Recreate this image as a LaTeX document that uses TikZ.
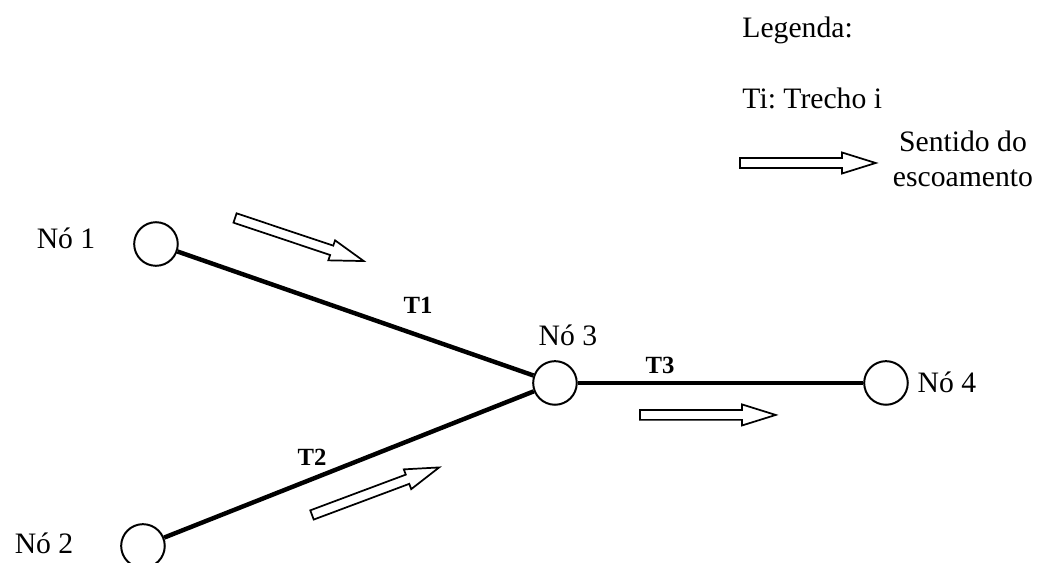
\documentclass[tikz,border=0pt]{standalone}
\usepackage{fontspec}
\setmainfont{Liberation Serif}
\usetikzlibrary{positioning}

\begin{document}
\frenchspacing
\begin{tikzpicture}[
  no/.style={circle, draw, line width=0.8pt, minimum size=0.62cm, inner sep=0pt},
  trecho/.style={line width=1.8pt},
  rotulo/.style={font=\fontsize{12}{14}\selectfont, inner sep=0pt},
  tlabel/.style={font=\fontsize{10}{12}\selectfont\bfseries, inner sep=0pt},
  flecha/.pic={
    \draw[line width=0.7pt, fill=white]
      (0,-0.07) -- (1.45,-0.07) -- (1.45,-0.15) -- (1.93,0)
      -- (1.45,0.15) -- (1.45,0.07) -- (0,0.07) -- cycle;
  },
]
\useasboundingbox (0,0) rectangle (14.903,8.006);

% ====== Nos ======
\node[no] (n1) at (2.218, 4.536) {};
\node[no] (n2) at (2.033, 0.242) {};
\node[no] (n3) at (7.892, 2.560) {};
\node[no] (n4) at (12.599, 2.560) {};

\node[rotulo] (ln1) at (0.939, 4.622) {Nó 1};
\node[rotulo] (ln2) at (0.626, 0.284) {Nó 2};
\node[rotulo] (ln3) at (8.077, 3.242) {Nó 3};
\node[rotulo] (ln4) at (13.466, 2.574) {Nó 4};

% ====== Trechos ======
\draw[trecho] (n1) -- (n3);
\draw[trecho] (n2) -- (n3);
\draw[trecho] (n3) -- (n4);

\node[tlabel] (t1) at (5.944, 3.669) {T1};
\node[tlabel] (t2) at (4.437, 1.507) {T2};
\node[tlabel] (t3) at (9.385, 2.816) {T3};

% ====== Sentido do escoamento ======
\pic[rotate=-18.5] at (3.342, 4.906) {flecha};
\pic[rotate=20.5] at (4.437, 0.683) {flecha};
\pic at (9.101, 2.105) {flecha};

% ====== Legenda ======
\node[rotulo, anchor=base west] (leg) at (10.551, 7.466) {Legenda:};
\node[rotulo, anchor=base west] (legt) at (10.551, 6.470) {Ti: Trecho i};
\pic at (10.523, 5.688) {flecha};
\node[rotulo, align=center] (legs) at (13.694, 5.745) {Sentido do\\escoamento};

\end{tikzpicture}
\end{document}
